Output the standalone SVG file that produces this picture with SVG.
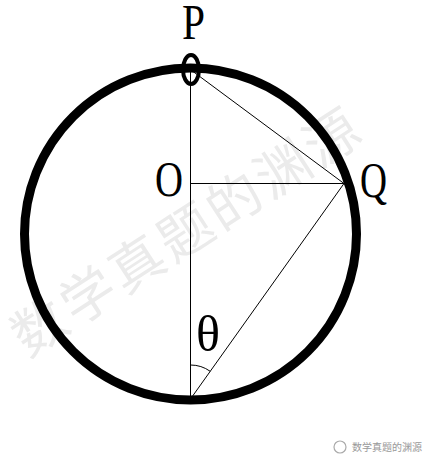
<svg xmlns="http://www.w3.org/2000/svg" width="436" height="466" viewBox="0 0 436 466">
<style>
.lbl{font-family:"Liberation Serif","Times New Roman",serif;font-size:50px;fill:#000}
.thin{stroke:#000;stroke-width:1;fill:none}
.wm{font-family:"Noto Sans CJK SC","Noto Sans CJK JP",sans-serif;fill:#ebebeb}
</style>
<rect width="436" height="466" fill="#fff"/>
<text class="wm" font-size="54" text-anchor="middle" dominant-baseline="central" letter-spacing="4" transform="translate(185,228) rotate(-33)">数学真题的渊源</text>
<g id="circle">
<circle cx="190.5" cy="234" r="166" fill="none" stroke="#000" stroke-width="9"/>
</g>
<g id="connectors">
<line class="thin" x1="190.5" y1="70" x2="190.5" y2="399"/>
<line class="thin" x1="190.5" y1="183.5" x2="344" y2="183.5"/>
<line class="thin" x1="191" y1="70" x2="344" y2="183.5"/>
<line class="thin" x1="190.5" y1="399" x2="344" y2="183.5"/>
<path class="thin" d="M190.5,365 A34,34 0 0 1 210.2,371.3"/>
</g>
<g id="bead">
<ellipse cx="191" cy="69.5" rx="8" ry="14.5" fill="none" stroke="#000" stroke-width="4"/>
</g>
<g id="label-P"><text class="lbl" x="182" y="39" textLength="23" lengthAdjust="spacingAndGlyphs">P</text></g>
<g id="label-O"><text class="lbl" x="155" y="196" textLength="28" lengthAdjust="spacingAndGlyphs">O</text></g>
<g id="label-Q"><text class="lbl" x="360" y="197" textLength="27" lengthAdjust="spacingAndGlyphs">Q</text></g>
<g id="label-theta"><text class="lbl" x="196" y="351" textLength="24" lengthAdjust="spacingAndGlyphs">θ</text></g>
<g id="footer">
<circle cx="340" cy="447" r="6" fill="none" stroke="#aaa" stroke-width="1.2"/>
<text x="352" y="451" font-family="Noto Sans CJK SC,sans-serif" font-size="10" fill="#999">数学真题的渊源</text>
</g>
</svg>
